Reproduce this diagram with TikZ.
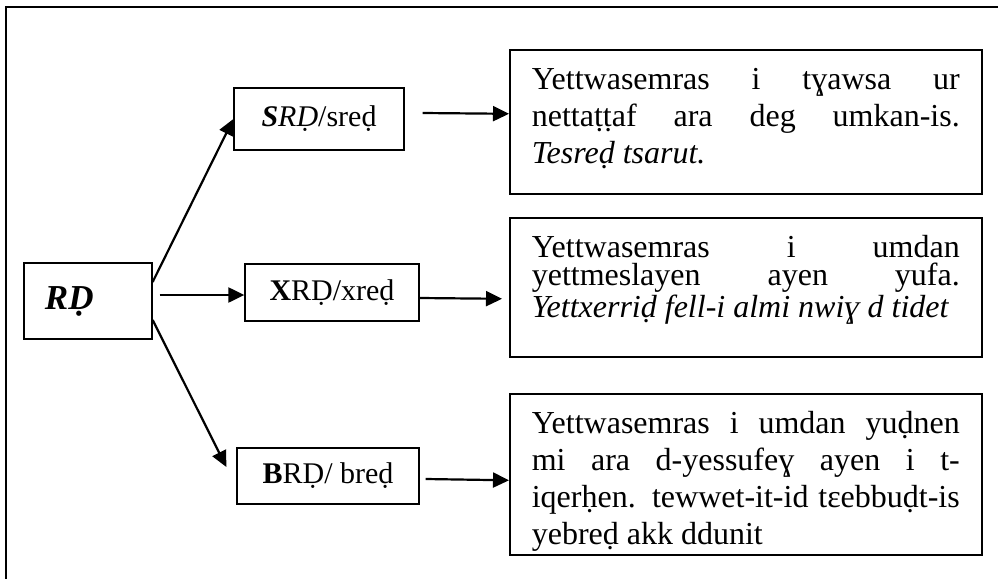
\documentclass[tikz,border=0pt]{standalone}
\usepackage{fontspec}
\setmainfont{Liberation Serif}
\usetikzlibrary{arrows.meta}
\hyphenpenalty=10000
\exhyphenpenalty=10000

\begin{document}
\begin{tikzpicture}[x=0.5pt,y=-0.5pt,
	lab/.style={draw,line width=0.65pt,inner sep=0pt,font=\fontsize{15}{17}\selectfont},
	txt/.style={draw,line width=0.8pt,anchor=north west,text width=214pt,align=justify,
		inner xsep=11pt,inner ysep=10pt,text height=10pt,font=\fontsize{16}{18.5}\selectfont},
	arr/.style={-{Triangle[length=8pt,width=7.5pt]},line width=1.1pt}]
	\useasboundingbox (0,0) rectangle (998,579);
	\draw[line width=1pt] (6,579) -- (6,7) -- (998,7);
	% left and middle column
	\node[lab,minimum width=64pt,minimum height=38pt,text width=43pt,align=left,
		font=\fontsize{17.5}{20}\selectfont] (rd) at (88,301) {\textbf{\textit{RḌ}}};
	\node[lab,minimum width=85pt,minimum height=31pt] (srd) at (319,119) {\textbf{\textit{S}}\textit{RḌ}/sreḍ};
	\node[lab,minimum width=87pt,minimum height=28.5pt] (xrd) at (332,292.5) {\textbf{X}RḌ/xreḍ};
	\node[lab,minimum width=91pt,minimum height=28pt] (brd) at (328,476) {\textbf{B}RḌ/ breḍ};
	% right column
	\node[txt,text depth=42pt] (tb1) at (509,49) {Yettwasemras i tɣawsa ur\linebreak
		nettaṭṭaf ara deg umkan-is.\linebreak \textit{Tesreḍ tsarut.}};
	\node[txt,text depth=39.5pt,font=\fontsize{16}{14}\selectfont] (tb2) at (509,217) {\lineskiplimit=-10pt\relax
		Yettwasemras i umdan\linebreak
		yettmeslayen ayen yufa.\linebreak \textit{Yettxerriḍ fell-i almi nwiɣ d tidet}};
	\node[txt,text depth=50.5pt] (tb3) at (509,393) {Yettwasemras i umdan yuḍnen\linebreak
		mi ara d-yessufeɣ ayen i t-\linebreak iqerḥen. tewwet-it-id tɛebbuḍt-is\linebreak yebreḍ akk ddunit};
	% arrows
	\draw[arr] ([yshift=9.5pt]rd.east) -- (srd.west);
	\draw[arr] ([xshift=3.5pt,yshift=3pt]rd.east) -- ([yshift=-1.25pt]xrd.west);
	\draw[arr] ([yshift=-9.5pt]rd.east) -- ([xshift=-5pt,yshift=4.5pt]brd.west);
	\draw[arr] ([xshift=9pt,yshift=3pt]srd.east) -- ([yshift=4pt]tb1.west);
	\draw[arr] ([yshift=-2.75pt]xrd.east) -- ([xshift=-3.5pt,yshift=-5.75pt]tb2.west);
	\draw[arr] ([xshift=3pt,yshift=-1.5pt]brd.east) -- ([yshift=-3pt]tb3.west);
\end{tikzpicture}
\end{document}
